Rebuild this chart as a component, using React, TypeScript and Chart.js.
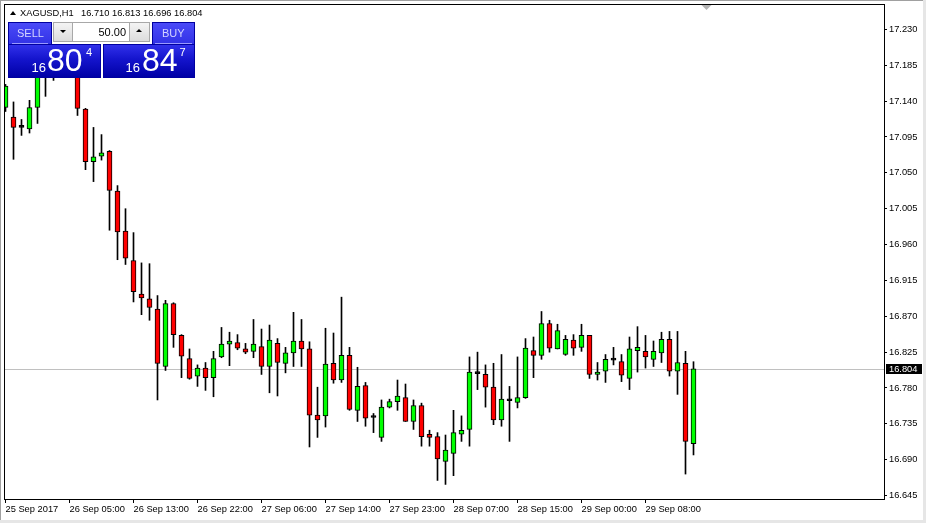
import React, { useEffect, useRef } from "react";
import { Chart, registerables } from "chart.js";

Chart.register(...registerables);

// ---- data (XAGUSD, H1) ----
const symbolTitle = "XAGUSD,H1";

const opens = [
  17.132, 17.120, 17.107, 17.105, 17.132, 17.189, 17.208, 17.190, 17.205, 17.200,
  17.130, 17.064, 17.071, 17.077, 17.027, 16.977, 16.940, 16.898, 16.892, 16.879,
  16.807, 16.886, 16.846, 16.817, 16.795, 16.805, 16.793, 16.819, 16.835, 16.837,
  16.829, 16.826, 16.832, 16.807, 16.836, 16.811, 16.824, 16.839, 16.829, 16.746,
  16.745, 16.811, 16.790, 16.821, 16.752, 16.783, 16.743, 16.718, 16.756, 16.763,
  16.768, 16.738, 16.758, 16.722, 16.719, 16.688, 16.698, 16.722, 16.728, 16.798,
  16.797, 16.781, 16.740, 16.764, 16.762, 16.768, 16.827, 16.821, 16.861, 16.829,
  16.822, 16.840, 16.831, 16.846, 16.797, 16.801, 16.815, 16.813, 16.792, 16.827,
  16.826, 16.816, 16.824, 16.841, 16.801, 16.811, 16.710,
];
const highs = [
  17.161, 17.139, 17.117, 17.141, 17.202, 17.229, 17.211, 17.210, 17.209, 17.208,
  17.131, 17.107, 17.098, 17.078, 17.034, 17.005, 16.975, 16.937, 16.936, 16.896,
  16.890, 16.887, 16.847, 16.829, 16.809, 16.812, 16.826, 16.856, 16.850, 16.847,
  16.836, 16.866, 16.854, 16.859, 16.842, 16.831, 16.875, 16.866, 16.838, 16.781,
  16.855, 16.849, 16.894, 16.831, 16.806, 16.787, 16.748, 16.765, 16.766, 16.790,
  16.785, 16.765, 16.761, 16.727, 16.724, 16.721, 16.752, 16.745, 16.819, 16.825,
  16.809, 16.811, 16.822, 16.782, 16.819, 16.842, 16.844, 16.876, 16.865, 16.860,
  16.846, 16.847, 16.860, 16.846, 16.812, 16.822, 16.831, 16.822, 16.844, 16.857,
  16.846, 16.839, 16.850, 16.851, 16.851, 16.826, 16.813,
];
const lows = [
  17.127, 17.067, 17.097, 17.100, 17.112, 17.146, 17.166, 17.184, 17.189, 17.122,
  17.054, 17.039, 17.066, 16.978, 16.941, 16.935, 16.888, 16.872, 16.865, 16.765,
  16.802, 16.831, 16.793, 16.791, 16.782, 16.777, 16.769, 16.818, 16.808, 16.828,
  16.823, 16.818, 16.797, 16.774, 16.770, 16.799, 16.807, 16.807, 16.706, 16.718,
  16.731, 16.786, 16.787, 16.752, 16.738, 16.732, 16.724, 16.713, 16.755, 16.752,
  16.738, 16.728, 16.707, 16.707, 16.664, 16.659, 16.670, 16.713, 16.707, 16.778,
  16.756, 16.734, 16.732, 16.713, 16.755, 16.767, 16.793, 16.816, 16.825, 16.829,
  16.821, 16.821, 16.826, 16.792, 16.790, 16.787, 16.809, 16.788, 16.778, 16.800,
  16.805, 16.807, 16.812, 16.795, 16.772, 16.672, 16.696,
];
const closes = [
  17.159, 17.107, 17.107, 17.132, 17.192, 17.217, 17.190, 17.205, 17.200, 17.131,
  17.064, 17.070, 17.075, 17.028, 16.976, 16.943, 16.901, 16.893, 16.881, 16.811,
  16.886, 16.847, 16.820, 16.792, 16.805, 16.793, 16.817, 16.835, 16.839, 16.830,
  16.825, 16.835, 16.807, 16.840, 16.812, 16.824, 16.839, 16.829, 16.746, 16.740,
  16.810, 16.790, 16.821, 16.753, 16.782, 16.742, 16.743, 16.756, 16.763, 16.770,
  16.738, 16.758, 16.719, 16.718, 16.691, 16.702, 16.724, 16.727, 16.800, 16.798,
  16.781, 16.740, 16.766, 16.764, 16.768, 16.830, 16.821, 16.861, 16.830, 16.852,
  16.841, 16.830, 16.846, 16.797, 16.800, 16.816, 16.815, 16.796, 16.829, 16.831,
  16.819, 16.826, 16.841, 16.801, 16.812, 16.713, 16.804,
];

const timeTickBars = [0, 8, 16, 24, 32, 40, 48, 56, 64, 72, 80];
const timeLabels = [
  "25 Sep 2017", "26 Sep 05:00", "26 Sep 13:00", "26 Sep 22:00", "27 Sep 06:00",
  "27 Sep 14:00", "27 Sep 23:00", "28 Sep 07:00", "28 Sep 15:00", "29 Sep 00:00",
  "29 Sep 08:00",
];
const priceTicks = [
  16.645, 16.690, 16.735, 16.780, 16.825, 16.870, 16.915, 16.960, 17.005,
  17.050, 17.095, 17.140, 17.185, 17.230,
];
const priceMin = 16.6407;
const priceMax = 17.2619;
const barMin = -0.1875;
const barMax = 109.8125;
const shiftMarkerBar = 87.6;

const bidPrice = 16.804;
const askPrice = 16.847;
const lotSize = "50.00";

const FONT = '"Liberation Sans", Arial, sans-serif';

const bullColor = "#00ff00";
const bearColor = "#ff0000";

function splitQuote(p: number) {
  const s = p.toFixed(3); // "16.804"
  return { small: s.slice(0, 2), big: s.slice(3, 5), tiny: s.slice(5) };
}

const mt4Plugin = {
  id: "mt4Decor",
  beforeDatasetsDraw(chart: any) {
    const { ctx, chartArea, scales } = chart;
    const y = Math.round(scales.y.getPixelForValue(bidPrice));
    ctx.save();
    ctx.fillStyle = "#c0c0c0";
    ctx.fillRect(chartArea.left, y, chartArea.right - chartArea.left, 1);
    ctx.restore();
  },
  afterDraw(chart: any) {
    const { ctx, chartArea, scales } = chart;
    ctx.save();
    // plot frame
    ctx.strokeStyle = "#000";
    ctx.lineWidth = 1;
    ctx.strokeRect(
      chartArea.left + 0.5,
      chartArea.top + 0.5,
      chartArea.right - chartArea.left,
      chartArea.bottom - chartArea.top
    );
    // bid label on price axis
    const y = Math.round(scales.y.getPixelForValue(bidPrice));
    ctx.fillStyle = "#000";
    ctx.fillRect(chartArea.right + 2, y - 5, 36, 10);
    ctx.fillStyle = "#fff";
    ctx.font = `9.3px ${FONT}`;
    ctx.textBaseline = "middle";
    ctx.textAlign = "left";
    ctx.fillText(bidPrice.toFixed(3), chartArea.right + 5, y + 0.5);
    // chart shift marker
    const sx = Math.round(scales.x.getPixelForValue(shiftMarkerBar)) + 0.5;
    const t = chartArea.top + 1;
    ctx.fillStyle = "#b4b4b4";
    ctx.beginPath();
    ctx.moveTo(sx - 5, t);
    ctx.lineTo(sx + 5, t);
    ctx.lineTo(sx, t + 5);
    ctx.closePath();
    ctx.fill();
    ctx.restore();
  },
};

export default function App() {
  const ref = useRef<HTMLCanvasElement>(null);

  useEffect(() => {
    const canvas = ref.current;
    if (!canvas) return;
    const bodies = opens.map((o, i) => ({ x: i, y: [o, closes[i]] }));
    const wicks = lows.map((l, i) => ({ x: i, y: [l, highs[i]] }));
    const bodyColor = (ctx: any) => {
      const i = ctx.dataIndex;
      if (i === undefined) return "#000";
      const o = opens[i];
      const c = closes[i];
      if (c > o) return bullColor;
      if (c < o) return bearColor;
      return "#000";
    };
    const chart = new Chart(canvas, {
      type: "bar",
      data: {
        datasets: [
          {
            label: "body",
            data: bodies as any,
            backgroundColor: bodyColor as any,
            borderColor: "#000",
            borderWidth: 1,
            borderSkipped: false,
            barThickness: 5,
            minBarLength: 2,
            grouped: false,
          } as any,
          {
            label: "wick",
            data: wicks as any,
            backgroundColor: "#000",
            borderWidth: 0,
            barThickness: 1,
            grouped: false,
          } as any,
        ],
      },
      options: {
        animation: false,
        responsive: false,
        maintainAspectRatio: false,
        events: [],
        layout: { padding: { left: 4, top: 4, right: 0, bottom: 0 } },
        plugins: {
          legend: { display: false },
          tooltip: { enabled: false },
          title: { display: false },
        },
        scales: {
          x: {
            type: "linear",
            position: "bottom",
            min: barMin,
            max: barMax,
            offset: false,
            afterBuildTicks: (s: any) => {
              s.ticks = timeTickBars.map((v) => ({ value: v }));
            },
            afterFit: (s: any) => {
              s.height = 24;
              s.paddingLeft = 0;
              s.paddingRight = 0;
            },
            grid: {
              display: true,
              offset: false,
              drawOnChartArea: false,
              drawTicks: true,
              tickLength: 4,
              color: "#000",
              lineWidth: 1,
            },
            border: { display: false },
            ticks: {
              autoSkip: false,
              maxRotation: 0,
              minRotation: 0,
              align: "start",
              padding: 1,
              color: "#000",
              font: { family: FONT, size: 9.3 },
              callback: (v: any) => {
                const k = timeTickBars.indexOf(Number(v));
                return k >= 0 ? timeLabels[k] : "";
              },
            },
          } as any,
          y: {
            type: "linear",
            position: "right",
            min: priceMin,
            max: priceMax,
            afterBuildTicks: (s: any) => {
              s.ticks = priceTicks.map((v) => ({ value: v }));
            },
            afterFit: (s: any) => {
              s.width = 42;
              s.paddingTop = 0;
              s.paddingBottom = 0;
            },
            grid: {
              display: true,
              drawOnChartArea: false,
              drawTicks: true,
              tickLength: 3,
              color: "#000",
              lineWidth: 1,
            },
            border: { display: false },
            ticks: {
              padding: 2,
              color: "#000",
              font: { family: FONT, size: 9.3 },
              callback: (v: any) => Number(v).toFixed(3),
            },
          } as any,
        },
      },
      plugins: [mt4Plugin],
    });
    return () => chart.destroy();
  }, []);

  const n = opens.length;
  const headerValues = [opens[n - 1], highs[n - 1], lows[n - 1], closes[n - 1]]
    .map((v) => v.toFixed(3))
    .join(" ");
  const bid = splitQuote(bidPrice);
  const ask = splitQuote(askPrice);

  const abs = (s: any) => ({ position: "absolute" as const, ...s });
  const txt = (size: number, color: string, extra: any = {}) => ({
    position: "absolute" as const,
    fontFamily: FONT,
    fontSize: size,
    lineHeight: `${size}px`,
    color,
    whiteSpace: "pre" as const,
    ...extra,
  });
  const btnGrad = "linear-gradient(#4a4af8 0%, #3232e6 100%)";
  const priceGrad = "linear-gradient(#3030ea 0%, #1414cc 45%, #0000a6 100%)";

  return (
    <div
      style={{
        position: "fixed",
        left: 0,
        top: 0,
        width: 926,
        height: 523,
        background: "#ffffff",
        overflow: "hidden",
      }}
    >
      <canvas
        ref={ref}
        width={926}
        height={523}
        style={{ position: "absolute", left: 0, top: 0, width: 926, height: 523 }}
      />
      {/* window frame */}
      <div style={abs({ left: 0, top: 0, width: 926, height: 1, background: "#a0a0a0" })} />
      <div style={abs({ left: 0, top: 0, width: 1, height: 523, background: "#a0a0a0" })} />
      <div style={abs({ left: 923, top: 0, width: 3, height: 523, background: "#e6e6e6" })} />
      <div style={abs({ left: 0, top: 520, width: 926, height: 3, background: "#e6e6e6" })} />

      {/* header */}
      <div
        style={abs({
          left: 10,
          top: 11,
          width: 0,
          height: 0,
          borderLeft: "3px solid transparent",
          borderRight: "3px solid transparent",
          borderBottom: "4px solid #000",
        })}
      />
      <span style={txt(9.3, "#000", { left: 20, top: 8.8 })}>{symbolTitle}</span>
      <span style={txt(9.3, "#000", { left: 81, top: 8.8 })}>{headerValues}</span>

      {/* SELL */}
      <div
        style={abs({
          left: 8,
          top: 22,
          width: 44,
          height: 22,
          background: btnGrad,
          boxSizing: "border-box",
          border: "1px solid #0000a0",
          borderBottom: "none",
        })}
      />
      <span style={txt(11, "#d4d4ff", { left: 17, top: 27.5 })}>SELL</span>
      <div style={abs({ left: 12, top: 43, width: 36, height: 1, background: "#9a9aff" })} />
      <div
        style={abs({
          left: 8,
          top: 44,
          width: 93,
          height: 34,
          background: priceGrad,
          boxSizing: "border-box",
          border: "1px solid #0000a0",
        })}
      />
      <span style={txt(13, "#fff", { left: 31.5, top: 61 })}>{bid.small}</span>
      <span style={txt(32, "#fff", { left: 47, top: 44 })}>{bid.big}</span>
      <span style={txt(11, "#fff", { left: 86, top: 46.7 })}>{bid.tiny}</span>

      {/* lot stepper */}
      <div
        style={abs({
          left: 53,
          top: 22,
          width: 20,
          height: 20,
          background: "linear-gradient(#f4f4f4,#dcdcdc)",
          boxSizing: "border-box",
          border: "1px solid #a8a8a8",
        })}
      />
      <div
        style={abs({
          left: 60,
          top: 30,
          width: 0,
          height: 0,
          borderLeft: "3px solid transparent",
          borderRight: "3px solid transparent",
          borderTop: "3px solid #000",
        })}
      />
      <div
        style={abs({
          left: 73,
          top: 22,
          width: 56,
          height: 20,
          background: "#fff",
          boxSizing: "border-box",
          borderTop: "1px solid #a8a8a8",
          borderBottom: "1px solid #a8a8a8",
        })}
      />
      <span style={txt(11, "#000", { left: 73, top: 26.5, width: 53, textAlign: "right" })}>
        {lotSize}
      </span>
      <div
        style={abs({
          left: 129,
          top: 22,
          width: 21,
          height: 20,
          background: "linear-gradient(#f4f4f4,#dcdcdc)",
          boxSizing: "border-box",
          border: "1px solid #a8a8a8",
        })}
      />
      <div
        style={abs({
          left: 136,
          top: 29,
          width: 0,
          height: 0,
          borderLeft: "3px solid transparent",
          borderRight: "3px solid transparent",
          borderBottom: "3px solid #000",
        })}
      />

      {/* BUY */}
      <div
        style={abs({
          left: 152,
          top: 22,
          width: 43,
          height: 22,
          background: btnGrad,
          boxSizing: "border-box",
          border: "1px solid #0000a0",
          borderBottom: "none",
        })}
      />
      <span style={txt(11, "#d4d4ff", { left: 162, top: 27.5 })}>BUY</span>
      <div style={abs({ left: 155, top: 43, width: 37, height: 1, background: "#9a9aff" })} />
      <div
        style={abs({
          left: 103,
          top: 44,
          width: 92,
          height: 34,
          background: priceGrad,
          boxSizing: "border-box",
          border: "1px solid #0000a0",
        })}
      />
      <span style={txt(13, "#fff", { left: 125.5, top: 61 })}>{ask.small}</span>
      <span style={txt(32, "#fff", { left: 142, top: 44 })}>{ask.big}</span>
      <span style={txt(11, "#fff", { left: 179.5, top: 46.7 })}>{ask.tiny}</span>
    </div>
  );
}
